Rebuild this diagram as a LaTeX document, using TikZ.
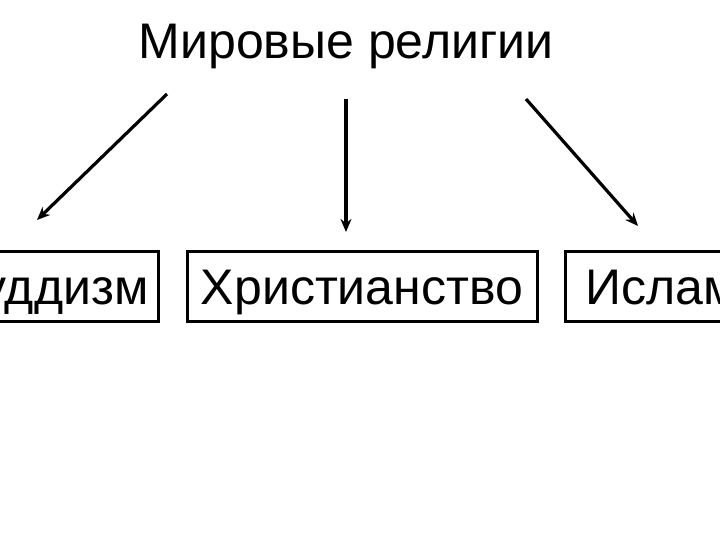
\documentclass[tikz,border=0pt]{standalone}
\usepackage{fontspec}
\setmainfont{Liberation Sans}
\usetikzlibrary{arrows.meta}
\begin{document}
\begin{tikzpicture}[x=1pt,y=-1pt,
  relbox/.style={draw=black,line width=3pt,text height=45pt,text depth=9pt,inner ysep=8pt,font=\fontsize{50}{60}\selectfont},
  arr/.style={line width=3.2pt,-{Stealth[length=13pt,width=11pt]}}]
\useasboundingbox (0,0) rectangle (720,540);
\clip (0,0) rectangle (720,540);
\fill[white] (0,0) rectangle (720,540);
\node[font=\fontsize{50}{60}\selectfont,inner sep=0pt,anchor=base] (title) at (346,59) {Мировые религии};
\node[relbox,anchor=east,inner xsep=10pt] (b1) at (160,286) {Буддизм};
\node[relbox,minimum width=350pt,inner xsep=0pt] (b2) at (362,286) {Христианство};
\node[relbox,anchor=west,inner xsep=20pt] (b3) at (564,286) {Ислам};
\coordinate (s1) at (167,94);
\coordinate (e1) at (37,220);
\coordinate (s2) at (346,99);
\coordinate (e2) at (346,232);
\coordinate (s3) at (526,99);
\coordinate (e3) at (638,226);
\draw[arr] (s1) -- (e1);
\draw[arr] (s2) -- (e2);
\draw[arr] (s3) -- (e3);
\end{tikzpicture}
\end{document}
